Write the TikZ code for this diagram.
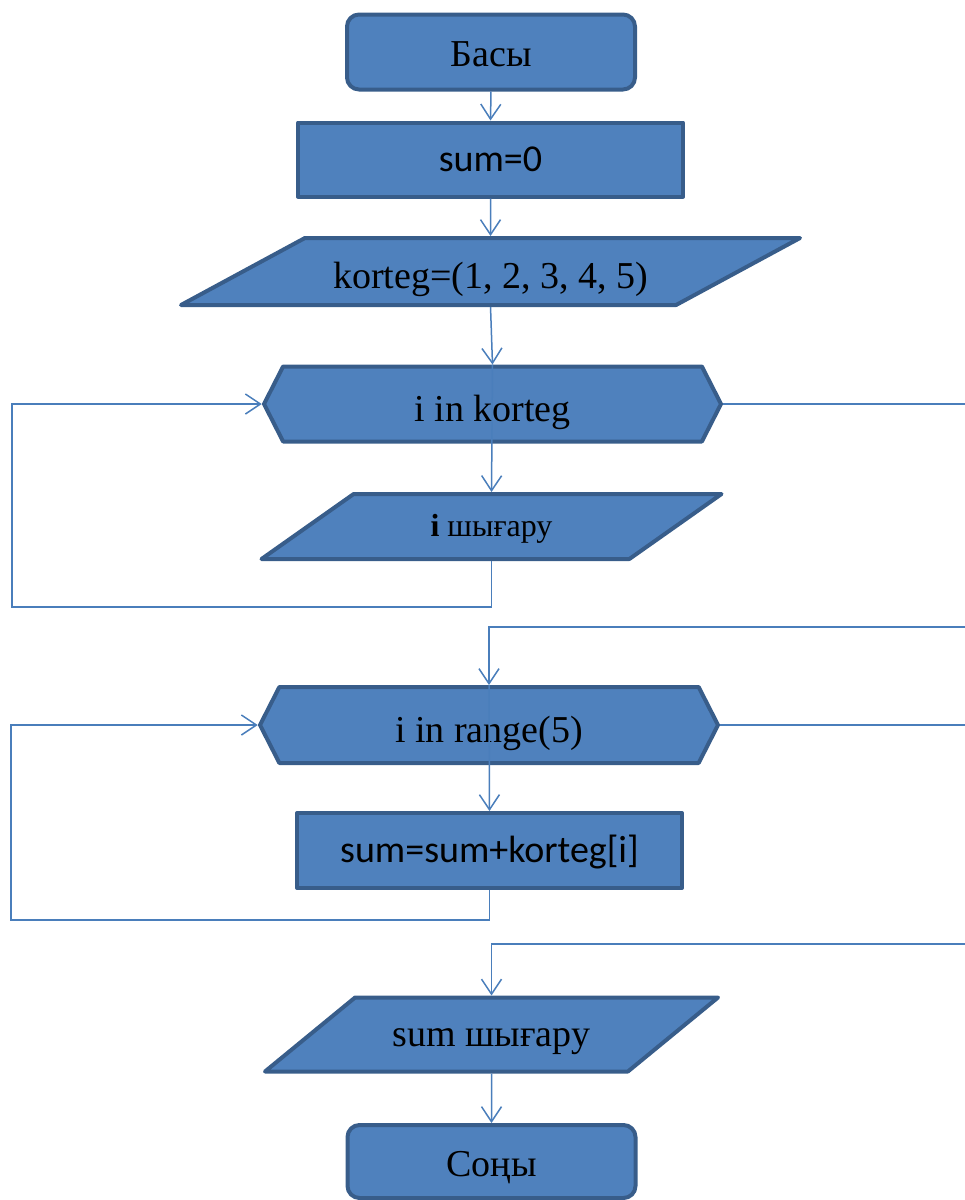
\documentclass[tikz,border=0pt]{standalone}
\usepackage{fontspec}
\setmainfont{Liberation Serif}
\newfontfamily\calibri{Carlito}
\usetikzlibrary{arrows.meta,shapes.geometric,shapes.symbols}
\definecolor{boxfill}{RGB}{79,129,189}
\definecolor{boxline}{RGB}{56,93,138}
\definecolor{linkline}{RGB}{74,126,187}
\tikzset{
  >={Straight Barb[length=15pt,width=20pt]},
  block/.style = {draw=boxline, fill=boxfill, line width=4pt, line join=round,
                  inner sep=0, text depth=0pt, font=\fontsize{38}{42}\selectfont},
  lift/.style = {text height=#1},
  terminal/.style = {block, rectangle, rounded corners=12pt,
                  minimum width=288pt, minimum height=75pt, lift=28pt},
  process/.style = {block, rectangle, minimum width=385pt, minimum height=74pt,
                  lift=24pt, font=\calibri\fontsize{38}{42}\selectfont},
  io/.style = {block, trapezium, trapezium stretches body=true, lift=24pt},
  loophead/.style = {block, signal, signal to=west and east,
                  signal pointer angle=126, minimum width=457pt,
                  minimum height=75pt, lift=35pt},
  link/.style = {draw=linkline, line width=1.5pt},
}

\begin{document}
\begin{tikzpicture}[x=1pt,y=-1pt]
\useasboundingbox (0,0) rectangle (965,1200);
\clip (0,0) rectangle (965,1200);

% blocks
\node[terminal] (start) at (491,52) {Басы};
\node[process] (init) at (490.5,159.5) {sum=0};
\node[io, trapezium left angle=28.4, trapezium right angle=151.6,
      minimum width=619pt, lift=33pt, inner ysep=17pt] (tuple) at (490.5,271.5)
      {korteg=(1, 2, 3, 4, 5)};
\node[loophead] (loopA) at (492.5,404) {i in korteg};
\node[io, trapezium left angle=35.2, trapezium right angle=144.8,
      minimum width=460pt, lift=20pt, inner ysep=22.5pt,
      font=\fontsize{32}{36}\selectfont] (printI) at (491.5,526.5)
      {\textbf{i} шығару};
\node[loophead, minimum width=458pt, minimum height=76pt] (loopB) at (489,725)
      {i in range(5)};
\node[process, minimum height=75pt] (body) at (489.5,850.5) {sum=sum+korteg[i]};
\node[io, trapezium left angle=39.4, trapezium right angle=140.6,
      minimum width=453pt, inner ysep=25pt] (printSum) at (491.5,1034.5)
      {sum шығару};
\node[terminal, minimum height=73pt, lift=30pt] (stop) at (491.5,1161.5) {Соңы};

% loop corners
\coordinate (backA) at (12,607);
\coordinate (exitA) at (975,627);
\coordinate (backB) at (11,920);
\coordinate (exitB) at (975,944);

% connectors
\foreach \from/\to in {start.south/init.north, init.south/tuple.north,
    tuple.south/loopA.north, loopA.north/printI.north,
    loopB.north/body.north, printSum.south/stop.north}
  \draw[link,->] (\from) -- (\to);
\draw[link,->] (printI.south) |- (backA) |- (loopA.west);
\draw[link,->] (loopA.east) -| (exitA) -| (loopB.north);
\draw[link,->] (body.south) |- (backB) |- (loopB.west);
\draw[link,->] (loopB.east) -| (exitB) -| (printSum.north);
\end{tikzpicture}
\end{document}
